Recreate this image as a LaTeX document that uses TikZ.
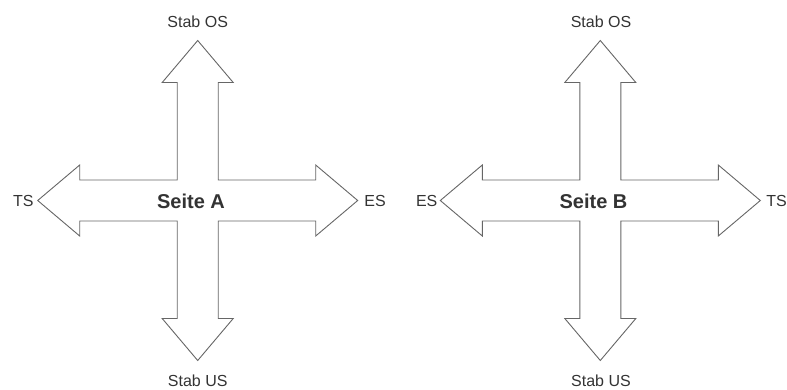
\documentclass[tikz,border=0pt]{standalone}
\usepackage{fontspec}
\setmainfont{Liberation Sans}
\usepackage{xcolor}
\usepackage{tikz}
\usetikzlibrary{positioning}
\definecolor{pfeilgrau}{gray}{0.4}
\definecolor{textgrau}{gray}{0.2}
\tikzset{
	label/.style={text=textgrau, inner sep=0pt, font=\fontsize{16}{19}\selectfont},
	seite/.style={text=textgrau, inner sep=0pt, font=\fontsize{20}{24}\selectfont\bfseries},
	pfeil/.style={draw=pfeilgrau, line width=0.9pt, line join=miter, fill=white}
}
% four-way arrow, tip distance 160, shaft 20.5, head 35.5, head base 118
\tikzset{
	pics/kreuz/.style={code={
		\draw[pfeil] (20.5,20.5) -- (118,20.5) -- (118,35.5) -- (160,0) -- (118,-35.5) -- (118,-20.5)
			-- (20.5,-20.5) -- (20.5,-118) -- (35.5,-118) -- (0,-160) -- (-35.5,-118) -- (-20.5,-118)
			-- (-20.5,-20.5) -- (-118,-20.5) -- (-118,-35.5) -- (-160,0) -- (-118,35.5) -- (-118,20.5)
			-- (-20.5,20.5) -- (-20.5,118) -- (-35.5,118) -- (0,160) -- (35.5,118) -- (20.5,118) -- cycle;
	}}
}

\begin{document}
\begin{tikzpicture}[x=1pt, y=-1pt]
	\useasboundingbox (0,0) rectangle (787,389);
	%Side A
	\pic at (197.7,200.5) {kreuz};
	\node[seite] at (191,201) (seiteA) {Seite A};
	\node[label] at (197.7,21.5) (osA) {Stab OS};
	\node[label] at (197.7,380.5) (usA) {Stab US};
	\node[label] at (23.3,201) (tsA) {TS};
	\node[label] at (375,201) (esA) {ES};
	%Side B
	\pic at (600.3,200.5) {kreuz};
	\node[seite] at (593.5,201) (seiteB) {Seite B};
	\node[label] at (601,21.5) (osB) {Stab OS};
	\node[label] at (601,380.5) (usB) {Stab US};
	\node[label] at (426.7,201) (esB) {ES};
	\node[label] at (776.5,201) (tsB) {TS};
\end{tikzpicture}
\end{document}
